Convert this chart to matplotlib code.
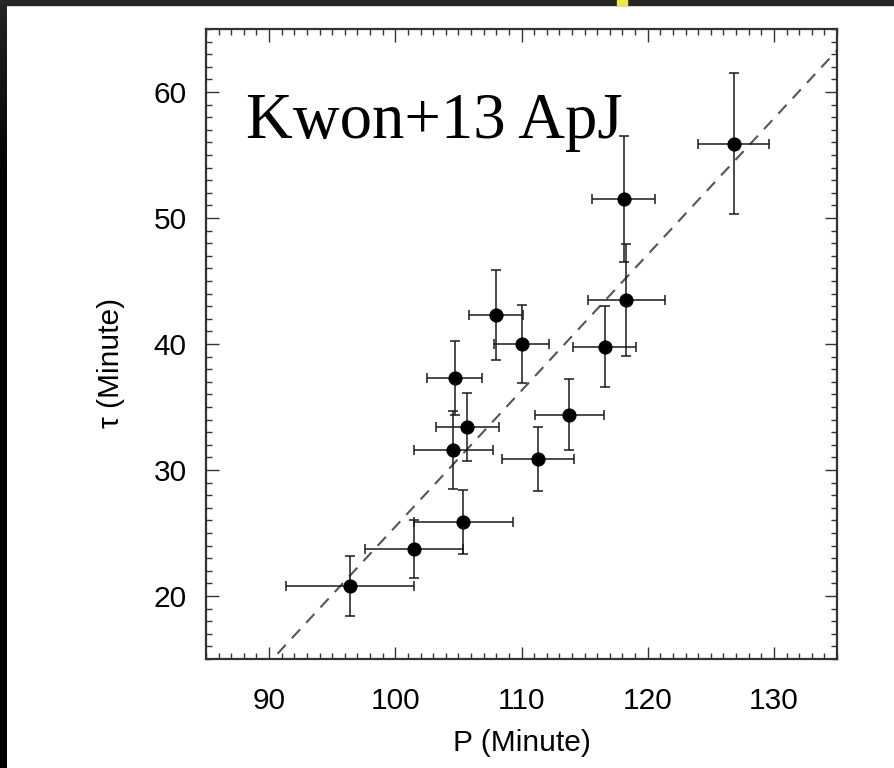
import numpy as np
import matplotlib
matplotlib.use("Agg")
import matplotlib.pyplot as plt
from matplotlib.patches import Rectangle
from matplotlib.ticker import MultipleLocator

# period P and damping time tau (minutes) with their errors
period = [96.4, 101.5, 105.4, 104.6, 104.7, 105.7, 108.0,
          110.0, 111.3, 113.8, 116.6, 118.3, 118.1, 126.8]
period_err = [5.1, 3.9, 3.95, 3.15, 2.2, 2.5, 2.15,
              2.15, 2.85, 2.7, 2.5, 3.05, 2.5, 2.8]
tau = [20.8, 23.7, 25.9, 31.6, 37.3, 33.4, 42.3,
       40.0, 30.9, 34.4, 39.8, 43.5, 51.5, 55.9]
tau_err = [2.4, 2.3, 2.55, 3.1, 2.9, 2.7, 3.6,
           3.1, 2.55, 2.8, 3.2, 4.45, 5.0, 5.6]

# fitted relation tau = a + b * P
fit_a = -82.5
fit_b = 1.08

x_ticks = [90, 100, 110, 120, 130]
y_ticks = [20, 30, 40, 50, 60]

W, H = 894, 768
fig = plt.figure(figsize=(W / 100, H / 100), dpi=100)
fig.patch.set_facecolor("white")

# dark frame strips from the screenshot
fig.add_artist(Rectangle((0, 1 - 5 / H), 1, 5 / H, transform=fig.transFigure,
                         color="#262626", zorder=0))
fig.add_artist(Rectangle((617 / W, 1 - 5 / H), 10 / W, 5 / H,
                         transform=fig.transFigure, color="#f2e84a", zorder=1))
strip = fig.add_axes((0, 0, 7 / W, 1 - 5 / H))
grad = np.concatenate([np.linspace(0.14, 0.0, 180), np.zeros(588)])[:, None]
strip.imshow(grad, aspect="auto", cmap="gray", vmin=0, vmax=1)
strip.set_axis_off()

ax = fig.add_axes((206 / W, (H - 659) / H, 631 / W, 630 / H))

tick_font = "Liberation Sans"

fit_x = np.array([85, 135])
ax.plot(fit_x, fit_a + fit_b * fit_x, color="#555555", lw=1.5,
        dashes=(5.8, 4.3), zorder=1)

ax.errorbar(period, tau, xerr=period_err, yerr=tau_err, fmt="o",
            color="black", ecolor="#1a1a1a", elinewidth=1.1, capsize=3.6,
            capthick=1.1, markersize=9.2, zorder=2)

ax.set_xlim(85, 135)
ax.set_ylim(15, 65)
ax.set_xticks(x_ticks)
ax.set_yticks(y_ticks)
ax.xaxis.set_minor_locator(MultipleLocator(1))
ax.yaxis.set_minor_locator(MultipleLocator(1))
ax.tick_params(which="both", direction="in", top=True, right=True,
               color="#333333", width=1.0)
ax.tick_params(which="major", length=9)
ax.tick_params(which="minor", length=4.5)
ax.tick_params(axis="x", which="major", pad=20)
ax.tick_params(axis="y", which="major", pad=14)
for lab in ax.get_xticklabels() + ax.get_yticklabels():
    lab.set_fontfamily(tick_font)
    lab.set_fontsize(21.5)

for sp in ax.spines.values():
    sp.set_color("#333333")
    sp.set_linewidth(1.6)

ax.set_xlabel("P (Minute)", fontfamily=tick_font, fontsize=21.5, labelpad=10)
ax.set_ylabel("\u03c4 (Minute)", fontfamily=tick_font, fontsize=21.5)
ax.yaxis.set_label_coords(-0.128, 0.47)

ax.text(0.064, 0.827, "Kwon+13 ApJ", transform=ax.transAxes,
        fontfamily="Liberation Serif", fontsize=46.6, va="baseline",
        ha="left", color="black")

fig.savefig("out.png", dpi=100)
